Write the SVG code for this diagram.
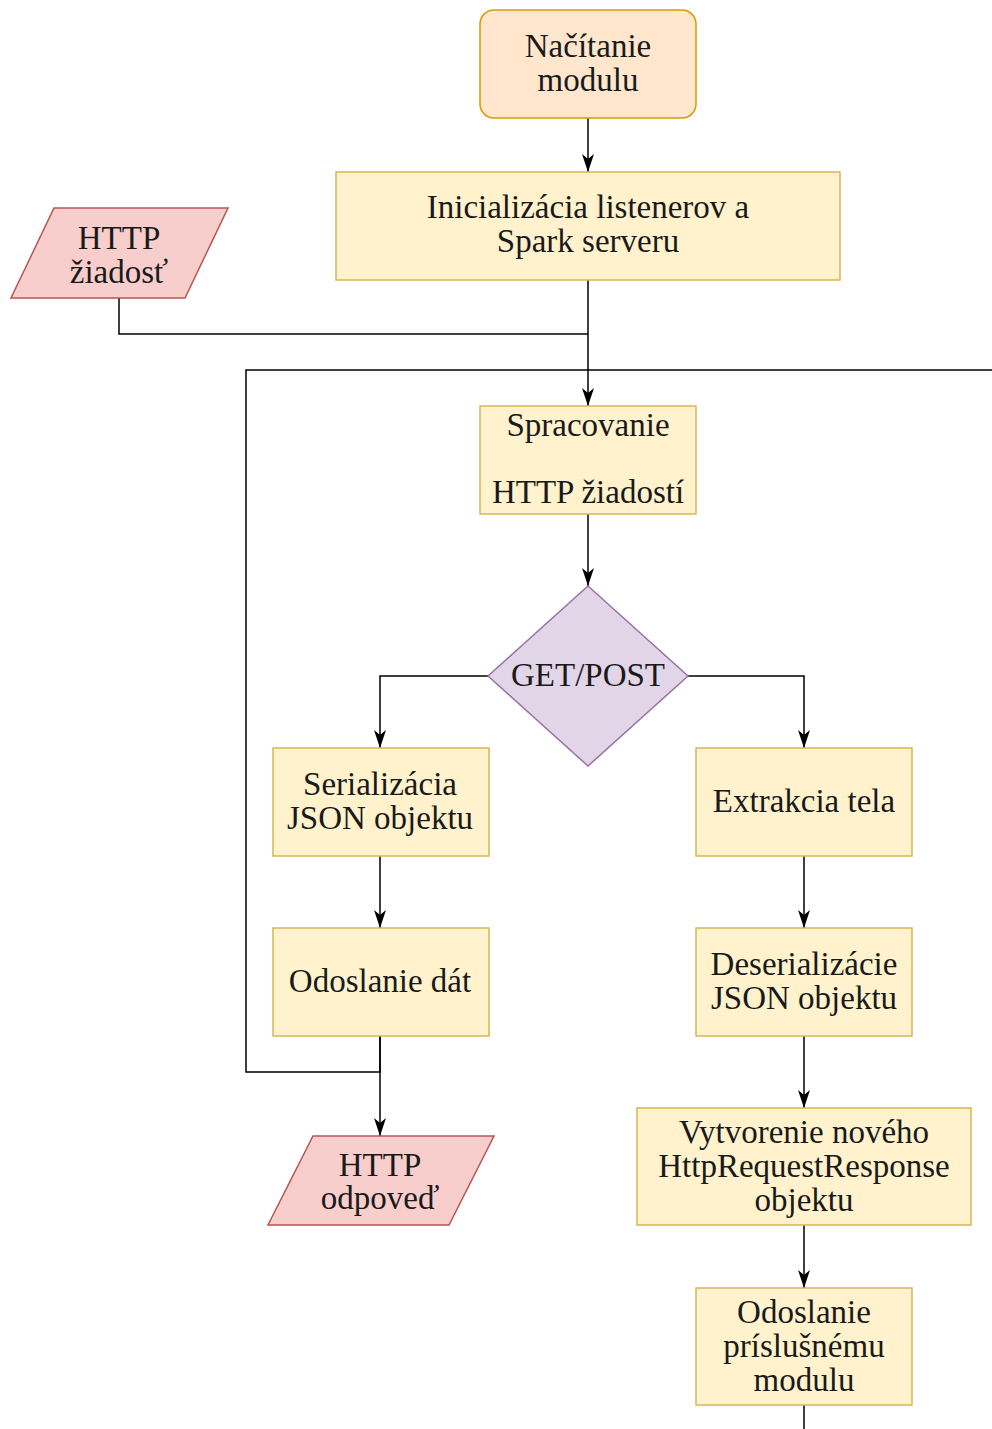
<svg xmlns="http://www.w3.org/2000/svg" width="992" height="1429" viewBox="0 0 992 1429">
<style>
text{font-family:"Liberation Serif","DejaVu Serif",serif;font-size:33px;fill:#1a1a1a;text-anchor:middle}
.proc{fill:#fff2cc;stroke:#d6b656;stroke-width:1.5}
.start{fill:#ffe6cc;stroke:#d79b00;stroke-width:1.5}
.io{fill:#f8cecc;stroke:#b85450;stroke-width:1.5}
.dec{fill:#e1d5e7;stroke:#9673a6;stroke-width:1.5}
.c{fill:none;stroke:#000;stroke-width:1.5}
</style>
<defs>
<marker id="arrh" viewBox="0 0 18 12" markerWidth="18" markerHeight="12" refX="18" refY="6" orient="auto" markerUnits="userSpaceOnUse">
<path d="M0,0 L18,6 L0,12 L5,6 Z" fill="#000"/>
</marker>
</defs>
<g id="connectors">
<path class="c" d="M588,118 V172" marker-end="url(#arrh)"/>
<path class="c" d="M588,280 V406" marker-end="url(#arrh)"/>
<path class="c" d="M119,298 V334 H588"/>
<path class="c" d="M380,1036 V1072 H246 V370 H992"/>
<path class="c" d="M588,514 V586" marker-end="url(#arrh)"/>
<path class="c" d="M488,676 H380 V748" marker-end="url(#arrh)"/>
<path class="c" d="M688,676 H804 V748" marker-end="url(#arrh)"/>
<path class="c" d="M380,856 V928" marker-end="url(#arrh)"/>
<path class="c" d="M804,856 V928" marker-end="url(#arrh)"/>
<path class="c" d="M380,1036 V1136" marker-end="url(#arrh)"/>
<path class="c" d="M804,1036 V1108" marker-end="url(#arrh)"/>
<path class="c" d="M804,1225 V1288" marker-end="url(#arrh)"/>
<path class="c" d="M804,1405 V1429"/>
</g>
<g id="nacitanie">
<rect class="start" x="480" y="10" width="216" height="108" rx="14"/>
<text x="588" y="57">Načítanie</text>
<text x="588" y="91">modulu</text>
</g>
<g id="inicializacia">
<rect class="proc" x="336" y="172" width="504" height="108"/>
<text x="588" y="218">Inicializácia listenerov a</text>
<text x="588" y="252">Spark serveru</text>
</g>
<g id="http-ziadost">
<polygon class="io" points="54,208 228,208 185,298 11,298"/>
<text x="119" y="249">HTTP</text>
<text x="119" y="283">žiadosť</text>
</g>
<g id="spracovanie">
<rect class="proc" x="480" y="406" width="216" height="108"/>
<text x="588" y="436">Spracovanie</text>
<text x="588" y="503">HTTP žiadostí</text>
</g>
<g id="get-post">
<polygon class="dec" points="588,586 688,676 588,766 488,676"/>
<text x="588" y="686">GET/POST</text>
</g>
<g id="serializacia">
<rect class="proc" x="273" y="748" width="216" height="108"/>
<text x="380" y="795">Serializácia</text>
<text x="380" y="829">JSON objektu</text>
</g>
<g id="extrakcia">
<rect class="proc" x="696" y="748" width="216" height="108"/>
<text x="804" y="812">Extrakcia tela</text>
</g>
<g id="odoslanie-dat">
<rect class="proc" x="273" y="928" width="216" height="108"/>
<text x="380" y="992">Odoslanie dát</text>
</g>
<g id="deserializacie">
<rect class="proc" x="696" y="928" width="216" height="108"/>
<text x="804" y="975">Deserializácie</text>
<text x="804" y="1009">JSON objektu</text>
</g>
<g id="http-odpoved">
<polygon class="io" points="313,1136 494,1136 449,1225 268,1225"/>
<text x="380" y="1176">HTTP</text>
<text x="380" y="1209">odpoveď</text>
</g>
<g id="vytvorenie">
<rect class="proc" x="637" y="1108" width="334" height="117"/>
<text x="804" y="1143">Vytvorenie nového</text>
<text x="804" y="1177">HttpRequestResponse</text>
<text x="804" y="1211">objektu</text>
</g>
<g id="odoslanie-modulu">
<rect class="proc" x="696" y="1288" width="216" height="117"/>
<text x="804" y="1323">Odoslanie</text>
<text x="804" y="1357">príslušnému</text>
<text x="804" y="1391">modulu</text>
</g>
</svg>
